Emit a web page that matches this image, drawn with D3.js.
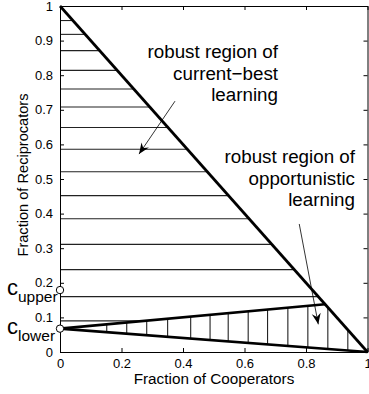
<!DOCTYPE html>
<html>
<head>
<meta charset="utf-8">
<script src="https://cdn.jsdelivr.net/npm/d3@7"></script>
<style>
  body { margin: 0; background: #fff; }
  svg { display: block; font-family: "Liberation Sans", Helvetica, Arial, sans-serif; }
</style>
</head>
<body>
<div class="chart"></div>
<script>
// values
var xTicks = [0, 0.2, 0.4, 0.6, 0.8, 1];
var yTicks = [0, 0.1, 0.2, 0.3, 0.4, 0.5, 0.6, 0.7, 0.8, 0.9, 1];
var hatchY = [0.958, 0.918, 0.871, 0.814, 0.760, 0.708, 0.649, 0.586, 0.521, 0.452, 0.385, 0.311, 0.238, 0.160, 0.090];
var hatchX = [0.152, 0.217, 0.282, 0.350, 0.425, 0.488, 0.547, 0.612, 0.675, 0.741, 0.806, 0.871, 0.936];
var cLower = 0.0675;
var cUpper = 0.179;
var upperEnd = [0.862, 0.138];
var label1 = ["robust region of", "current\u2212best", "learning"];
var label2 = ["robust region of", "opportunistic", "learning"];
var arrow1 = [[0.374, 0.725], [0.257, 0.572]];
var arrow2 = [[0.778, 0.370], [0.840, 0.080]];

var width = 369, height = 394;
var x = d3.scaleLinear().domain([0, 1]).range([60, 367.5]);
var y = d3.scaleLinear().domain([0, 1]).range([352, 6]);

var svg = d3.select(".chart").append("svg")
  .attr("width", width)
  .attr("height", height);

svg.append("defs").append("marker")
  .attr("id", "head")
  .attr("viewBox", "-12 -6 13 12")
  .attr("refX", 0).attr("refY", 0)
  .attr("markerWidth", 13).attr("markerHeight", 12)
  .attr("markerUnits", "userSpaceOnUse")
  .attr("orient", "auto")
  .append("path")
  .attr("d", "M0,0L-11,-4.5L-7.5,0L-11,4.5Z")
  .attr("fill", "#000");

var slope = (upperEnd[1] - cLower) / upperEnd[0];
function upper(v) { return cLower + slope * v; }
function lower(v) { return cLower * (1 - v); }

var plot = svg.append("g");

// horizontal hatching (current-best region)
plot.selectAll(".hh").data(hatchY).enter().append("line")
  .attr("class", "hh")
  .attr("x1", x(0))
  .attr("x2", function(d) { return d >= upperEnd[1] ? x(1 - d) : x((d - cLower) / slope); })
  .attr("y1", function(d) { return y(d); })
  .attr("y2", function(d) { return y(d); })
  .attr("stroke", "#222")
  .attr("stroke-width", 1.1);

// vertical hatching (opportunistic region)
plot.selectAll(".vh").data(hatchX).enter().append("line")
  .attr("class", "vh")
  .attr("x1", function(d) { return x(d); })
  .attr("x2", function(d) { return x(d); })
  .attr("y1", function(d) { return y(lower(d)); })
  .attr("y2", function(d) { return y(Math.min(upper(d), 1 - d)); })
  .attr("stroke", "#222")
  .attr("stroke-width", 1.1);

var line = d3.line().x(function(d) { return x(d[0]); }).y(function(d) { return y(d[1]); });
var bounds = [
  [[0, 1], [1, 0]],
  [[0, cLower], upperEnd],
  [[0, cLower], [1, 0]]
];
plot.selectAll(".bound").data(bounds).enter().append("path")
  .attr("class", "bound")
  .attr("d", line)
  .attr("fill", "none")
  .attr("stroke", "#000")
  .attr("stroke-width", 2.7);

// axes box, MATLAB style inward ticks
function styleAxis(g) {
  g.selectAll("path").attr("stroke", "#000").attr("stroke-width", 1);
  g.selectAll("line").attr("stroke", "#000");
  g.selectAll("text").attr("font-size", 13).attr("fill", "#000")
    .attr("font-family", "Liberation Sans, Helvetica, Arial, sans-serif");
}
svg.append("g").attr("transform", "translate(0," + y(0) + ")")
  .call(d3.axisBottom(x).tickValues(xTicks).tickSize(-4).tickSizeOuter(0).tickPadding(7)
    .tickFormat(d3.format("~g")))
  .call(styleAxis);
svg.append("g").attr("transform", "translate(0," + y(1) + ")")
  .call(d3.axisTop(x).tickValues(xTicks).tickSize(-4).tickSizeOuter(0).tickFormat(""))
  .call(styleAxis);
svg.append("g").attr("transform", "translate(" + x(0) + ",0)")
  .call(d3.axisLeft(y).tickValues(yTicks).tickSize(-4).tickSizeOuter(0).tickPadding(7)
    .tickFormat(d3.format("~g")))
  .call(styleAxis);
svg.append("g").attr("transform", "translate(" + x(1) + ",0)")
  .call(d3.axisRight(y).tickValues(yTicks).tickSize(-4).tickSizeOuter(0).tickFormat(""))
  .call(styleAxis);

// axis titles
svg.append("text")
  .attr("x", 214).attr("y", 384)
  .attr("text-anchor", "middle")
  .attr("font-size", 15.3)
  .text("Fraction of Cooperators");
svg.append("text")
  .attr("transform", "translate(28," + 175 + ")rotate(-90)")
  .attr("text-anchor", "middle")
  .attr("font-size", 14.6)
  .text("Fraction of Reciprocators");

// c_upper / c_lower markers
var cs = [{v: cUpper, sub: "upper"}, {v: cLower, sub: "lower"}];
svg.selectAll(".cdot").data(cs).enter().append("circle")
  .attr("class", "cdot")
  .attr("cx", x(0))
  .attr("cy", function(d) { return y(d.v); })
  .attr("r", 3.7)
  .attr("fill", "#fff")
  .attr("stroke", "#000")
  .attr("stroke-width", 1);

var clab = svg.selectAll(".clab").data(cs).enter().append("text")
  .attr("class", "clab")
  .attr("x", 7)
  .attr("y", function(d) { return y(d.v) + 5; });
clab.append("tspan").attr("font-size", 22).text("c");
clab.append("tspan").attr("font-size", 15.5).attr("dy", 7).text(function(d) { return d.sub; });

// annotations
function block(lines, right, top) {
  svg.append("g").selectAll("text").data(lines).enter().append("text")
    .attr("x", right)
    .attr("y", function(d, i) { return top + i * 21.7; })
    .attr("text-anchor", "end")
    .attr("font-size", 18.8)
    .text(function(d) { return d; });
}
block(label1, 278, 58);
block(label2, 355, 163);

svg.selectAll(".arrow").data([arrow1, arrow2]).enter().append("path")
  .attr("class", "arrow")
  .attr("d", line)
  .attr("fill", "none")
  .attr("stroke", "#000")
  .attr("stroke-width", 0.8)
  .attr("marker-end", "url(#head)");
</script>
</body>
</html>
